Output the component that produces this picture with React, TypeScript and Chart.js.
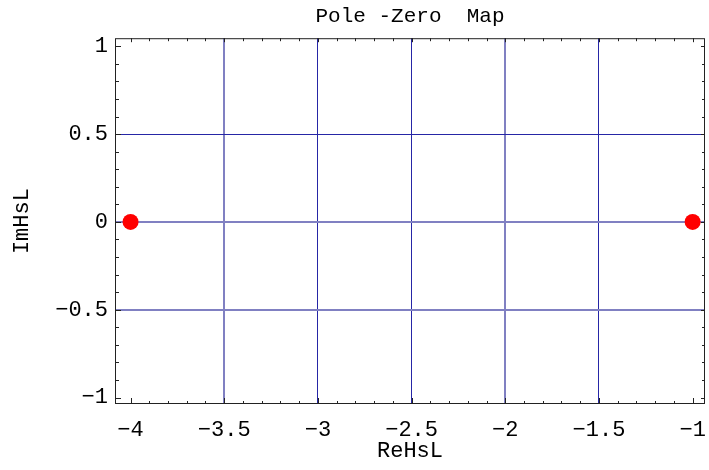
import React, { useEffect, useRef } from "react";
import { Chart, registerables } from "chart.js";

Chart.register(...registerables);

const chartTitle = "Pole -Zero  Map";
const xAxisLabel = "ReHsL";
const yAxisLabel = "ImHsL";

const poleRe = [-4, -1];
const poleIm = [0, 0];

const xTickValues = [-4, -3.5, -3, -2.5, -2, -1.5, -1];
const yTickValues = [-1, -0.5, 0, 0.5, 1];
const xMinorRange = [-4, -1];
const yMinorRange = [-1, 1];

const xRange = [-4.083, -0.934];
const yRange = [-1.037, 1.046];

const xGridDark = [-3, -2.5, -1.5];
const xGridLight = [-3.5, -2];
const yGridDark = [0.5];
const yGridLight = [0, -0.5];

const FONT = "'Liberation Mono', 'Courier New', monospace";
const DARK = "#2626a6";
const LIGHT = "#8080c2";

const fmt = (v: number) => String(v).replace("-", "\u2212");

const framePlugin = {
  id: "frameTicks",
  beforeDatasetsDraw(chart: any) {
    const { ctx, chartArea: a, scales } = chart;
    const x = scales.x;
    const y = scales.y;
    ctx.save();
    ctx.strokeStyle = "#222";
    ctx.lineWidth = 1;
    ctx.strokeRect(a.left + 0.5, a.top + 0.5, a.right - a.left - 1, a.bottom - a.top - 1);
    ctx.beginPath();
    const x0 = Math.round(xMinorRange[0] * 10);
    const x1 = Math.round(xMinorRange[1] * 10);
    for (let k = x0; k <= x1; k++) {
      const major = k % 5 === 0;
      const px = Math.round(x.getPixelForValue(k / 10)) + 0.5;
      const lb = major ? 6 : 3;
      const lt = major ? 4 : 3;
      ctx.moveTo(px, a.bottom);
      ctx.lineTo(px, a.bottom - lb);
      ctx.moveTo(px, a.top);
      ctx.lineTo(px, a.top + lt);
    }
    const y0 = Math.round(yMinorRange[0] * 10);
    const y1 = Math.round(yMinorRange[1] * 10);
    for (let k = y0; k <= y1; k++) {
      const major = k % 5 === 0;
      const py = Math.round(y.getPixelForValue(k / 10)) + 0.5;
      const ll = major ? 6 : 4;
      const lr = major ? 4 : 3;
      ctx.moveTo(a.left, py);
      ctx.lineTo(a.left + ll, py);
      ctx.moveTo(a.right, py);
      ctx.lineTo(a.right - lr, py);
    }
    ctx.stroke();
    ctx.restore();
  },
};

export default function App() {
  const ref = useRef<HTMLCanvasElement | null>(null);

  useEffect(() => {
    if (!ref.current) return;
    const points = poleRe.map((re, i) => ({ x: re, y: poleIm[i] }));
    const gridColor = (darkList: number[], lightList: number[]) => (c: any) => {
      const v = c.tick ? c.tick.value : NaN;
      if (darkList.some((d) => Math.abs(d - v) < 1e-9)) return DARK;
      if (lightList.some((d) => Math.abs(d - v) < 1e-9)) return LIGHT;
      return "rgba(0,0,0,0)";
    };
    const gridWidth = (lightList: number[]) => (c: any) => {
      const v = c.tick ? c.tick.value : NaN;
      return lightList.some((d) => Math.abs(d - v) < 1e-9) ? 2 : 1;
    };
    const chart = new Chart(ref.current, {
      type: "scatter",
      data: {
        datasets: [
          {
            label: "Poles",
            data: points,
            pointRadius: 8,
            pointHoverRadius: 8,
            backgroundColor: "#ff0000",
            borderWidth: 0,
          },
        ],
      },
      options: {
        animation: false,
        responsive: false,
        devicePixelRatio: 1,
        layout: { autoPadding: false, padding: { left: 0, right: 4, top: 0, bottom: 0 } },
        plugins: {
          legend: { display: false },
          tooltip: { enabled: false },
          title: {
            display: true,
            text: chartTitle,
            fullSize: false,
            color: "#000",
            font: { family: FONT, size: 21, weight: "normal" },
            padding: { top: 4, bottom: 9 },
          },
        },
        scales: {
          x: {
            type: "linear",
            min: xRange[0],
            max: xRange[1],
            afterBuildTicks: (s: any) => {
              s.ticks = xTickValues.map((v) => ({ value: v }));
            },
            afterFit: (s: any) => {
              s.height = 66;
              s.paddingLeft = 0;
              s.paddingRight = 0;
            },
            border: { display: false },
            grid: {
              drawTicks: false,
              color: gridColor(xGridDark, xGridLight),
              lineWidth: gridWidth(xGridLight),
            },
            ticks: {
              color: "#000",
              padding: 13,
              maxRotation: 0,
              autoSkip: false,
              font: { family: FONT, size: 22 },
              callback: (v: any) => fmt(Number(v)),
            },
            title: {
              display: true,
              text: xAxisLabel,
              color: "#000",
              font: { family: FONT, size: 22 },
              padding: { top: 0, bottom: 6 },
            },
          },
          y: {
            type: "linear",
            min: yRange[0],
            max: yRange[1],
            afterBuildTicks: (s: any) => {
              s.ticks = yTickValues.map((v) => ({ value: v }));
            },
            afterFit: (s: any) => {
              s.width = 115;
              s.paddingTop = 0;
              s.paddingBottom = 0;
            },
            border: { display: false },
            grid: {
              drawTicks: false,
              color: gridColor(yGridDark, yGridLight),
              lineWidth: gridWidth(yGridLight),
            },
            ticks: {
              color: "#000",
              padding: 7,
              autoSkip: false,
              font: { family: FONT, size: 22 },
              callback: (v: any) => fmt(Number(v)),
            },
            title: {
              display: true,
              text: yAxisLabel,
              color: "#000",
              font: { family: FONT, size: 22 },
              padding: { top: 9, bottom: 0 },
            },
          },
        },
      },
      plugins: [framePlugin],
    } as any);
    return () => chart.destroy();
  }, []);

  return (
    <div style={{ position: "fixed", left: 0, top: 0, width: 709, height: 470, background: "#fff" }}>
      <canvas ref={ref} width={709} height={470} style={{ display: "block" }} />
    </div>
  );
}
